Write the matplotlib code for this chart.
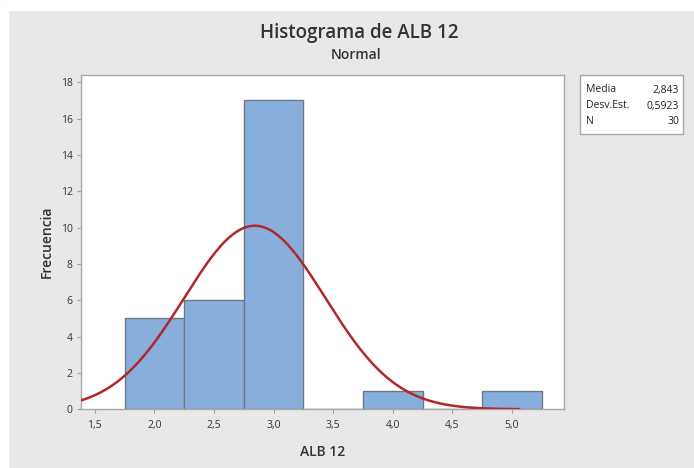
import numpy as np
import matplotlib
matplotlib.use("Agg")
import matplotlib.pyplot as plt
import matplotlib.patches as patches

plt.rcParams['font.family'] = ['Open Sans', 'DejaVu Sans']

# histogram data (bin centres, width 0.5)
bin_centers = [2.0, 2.5, 3.0, 3.5, 4.0, 4.5, 5.0]
counts = [5, 6, 17, 0, 1, 0, 1]
bin_width = 0.5
mean = 2.843
std = 0.5923
n = 30

x_ticks = [1.5, 2.0, 2.5, 3.0, 3.5, 4.0, 4.5, 5.0]
y_ticks = [0, 2, 4, 6, 8, 10, 12, 14, 16, 18]

fig = plt.figure(figsize=(6.94, 4.68), dpi=100, facecolor='#e8e8e8')
# thin white strips left over from the screenshot (top and left)
fig.patches.append(patches.Rectangle((0, 1 - 10 / 468), 1, 10 / 468, transform=fig.transFigure,
                                     color='white', zorder=-5))
fig.patches.append(patches.Rectangle((0, 0), 8 / 694, 1, transform=fig.transFigure,
                                     color='white', zorder=-5))

ax = fig.add_axes([81 / 694, 1 - 409.3 / 468, (564 - 81) / 694, (409.3 - 75) / 468])
ax.set_facecolor('white')

ax.bar(bin_centers, counts, width=bin_width, color='#88aedc', edgecolor='#6e7782', linewidth=1.0, zorder=2)

# fitted normal curve
xs = np.linspace(1.385, 5.06, 300)
ys = n * bin_width * np.exp(-0.5 * ((xs - mean) / std) ** 2) / (std * np.sqrt(2 * np.pi))
ax.plot(xs, ys, color='#b0282c', linewidth=1.8, zorder=3)

ax.set_xlim(1.385, 5.437)
ax.set_ylim(0, 18.4)
ax.set_xticks(x_ticks)
ax.set_xticklabels([f"{t:.1f}".replace('.', ',') for t in x_ticks], fontsize=7.5, color='#333333')
ax.set_yticks(y_ticks)
ax.set_yticklabels([str(t) for t in y_ticks], fontsize=7.5, color='#333333')
ax.tick_params(axis='x', length=3, width=0.8, color='#a0a0a0', pad=5)
ax.tick_params(axis='y', length=3, width=0.8, color='#a0a0a0', pad=3)
for s in ax.spines.values():
    s.set_color('#a8a8a8')
    s.set_linewidth(1.0)

ax.set_xlabel('ALB 12', fontsize=10, color='#333333', labelpad=10, fontweight='semibold')
ax.set_ylabel('Frecuencia', fontsize=10, color='#333333', labelpad=5, fontweight='semibold')

fig.text(359 / 694, 1 - 33 / 468, 'Histograma de ALB 12', ha='center', va='center',
         fontsize=13.5, color='#333333', fontweight='semibold')
fig.text(356 / 694, 1 - 55 / 468, 'Normal', ha='center', va='center',
         fontsize=10, color='#333333', fontweight='semibold')

# statistics box
fig.patches.append(patches.Rectangle((580 / 694, 1 - 134 / 468), 103 / 694, 59 / 468,
                                     transform=fig.transFigure, facecolor='white',
                                     edgecolor='#a8a8a8', linewidth=1.0, zorder=1))
stat_names = ['Media', 'Desv.Est.', 'N']
stat_values = ['2,843', '0,5923', '30']
for i, (name, val) in enumerate(zip(stat_names, stat_values)):
    yy = 1 - (90 + i * 16) / 468
    fig.text(586 / 694, yy, name, ha='left', va='center', fontsize=7.5, color='#222222')
    fig.text(679 / 694, yy, val, ha='right', va='center', fontsize=7.5, color='#222222')

fig.savefig('out.png', dpi=100, facecolor=fig.get_facecolor())
